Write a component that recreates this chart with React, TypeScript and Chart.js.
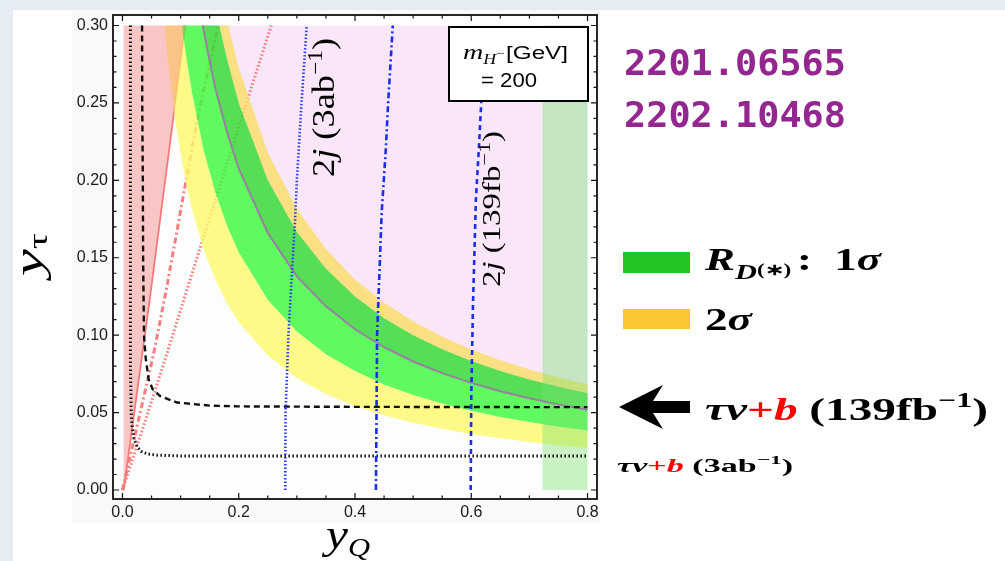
import { useEffect, useRef } from "react";
import { Chart, registerables } from "chart.js";
Chart.register(...registerables);

// ---------- axes ----------
const xMajorTicks = [0, 0.2, 0.4, 0.6, 0.8];
const xTickLabels = ["0.0", "0.2", "0.4", "0.6", "0.8"];
const xMinorTicks = [0.05, 0.1, 0.15, 0.25, 0.3, 0.35, 0.45, 0.5, 0.55, 0.65, 0.7, 0.75];
const yMajorTicks = [0, 0.05, 0.1, 0.15, 0.2, 0.25, 0.3];
const yTickLabels = ["0.00", "0.05", "0.10", "0.15", "0.20", "0.25", "0.30"];
const yMinorTicks = [0.01, 0.02, 0.03, 0.04, 0.06, 0.07, 0.08, 0.09, 0.11, 0.12, 0.13, 0.14, 0.16, 0.17, 0.18, 0.19, 0.21, 0.22, 0.23, 0.24, 0.26, 0.27, 0.28, 0.29];
const regionTop = 0.3;
const regionRight = 0.8;

// ---------- R_D(*) bands ----------
const centralX = [0.138, 0.15, 0.16, 0.18, 0.2, 0.25, 0.3, 0.35, 0.4, 0.45, 0.5, 0.55, 0.6, 0.65, 0.7, 0.75, 0.8];
const centralY = [0.3, 0.277, 0.259, 0.231, 0.2075, 0.166, 0.138, 0.1186, 0.1038, 0.0922, 0.083, 0.0755, 0.0692, 0.0638, 0.0593, 0.0553, 0.0519];
const up1X = [0.1667, 0.18, 0.2, 0.25, 0.3, 0.35, 0.4, 0.45, 0.5, 0.55, 0.6, 0.65, 0.7, 0.75, 0.8];
const up1Y = [0.3, 0.278, 0.25, 0.2, 0.1667, 0.1429, 0.125, 0.111, 0.1, 0.0909, 0.0833, 0.0769, 0.0714, 0.0667, 0.0625];
const up2X = [0.182, 0.2, 0.25, 0.3, 0.35, 0.4, 0.45, 0.5, 0.55, 0.6, 0.65, 0.7, 0.75, 0.8];
const up2Y = [0.3, 0.2725, 0.218, 0.1817, 0.1557, 0.136, 0.121, 0.109, 0.099, 0.0908, 0.0838, 0.0779, 0.0727, 0.0681];
const lo1X = [0.1023, 0.11, 0.12, 0.14, 0.16, 0.18, 0.2, 0.25, 0.3, 0.35, 0.4, 0.45, 0.5, 0.55, 0.6, 0.65, 0.7, 0.75, 0.8];
const lo1Y = [0.3, 0.279, 0.256, 0.219, 0.192, 0.1706, 0.1535, 0.1228, 0.1023, 0.0877, 0.0768, 0.0682, 0.0614, 0.0558, 0.0512, 0.0472, 0.0439, 0.0409, 0.0384];
const lo2X = [0.0723, 0.08, 0.09, 0.1, 0.11, 0.12, 0.14, 0.16, 0.18, 0.2, 0.25, 0.3, 0.35, 0.4, 0.45, 0.5, 0.55, 0.6, 0.65, 0.7, 0.75, 0.8];
const lo2Y = [0.3, 0.271, 0.241, 0.217, 0.197, 0.181, 0.155, 0.136, 0.1206, 0.1085, 0.0868, 0.0723, 0.062, 0.0543, 0.0482, 0.0434, 0.0395, 0.0362, 0.0334, 0.031, 0.0289, 0.0271];

// ---------- other constraints ----------
const redSolidX = [0.002, 0.047, 0.108];
const redSolidY = [0, 0.1234, 0.3];
const redDashX = [0.0, 0.054, 0.0767, 0.108, 0.129, 0.165];
const redDashY = [0, 0.0887, 0.132, 0.197, 0.24, 0.3];
const redDotX = [0.0, 0.03, 0.077, 0.135, 0.168, 0.256];
const redDotY = [0, 0.034, 0.0887, 0.158, 0.197, 0.3];
const greenBandX = [0.7225, 0.8];
const greenBandY = [0, 0.3];
const tauNu139X = [0.0337, 0.034, 0.035, 0.0355, 0.037, 0.04, 0.045, 0.052, 0.065, 0.094, 0.15, 0.2, 0.4, 0.8];
const tauNu139Y = [0.3, 0.25, 0.2, 0.15, 0.1, 0.085, 0.0714, 0.065, 0.0606, 0.0565, 0.0545, 0.054, 0.0537, 0.0535];
const tauNu3abX = [0.0137, 0.0137, 0.015, 0.0166, 0.02, 0.025, 0.032, 0.042, 0.06, 0.1, 0.8];
const tauNu3abY = [0.3, 0.08, 0.05, 0.041, 0.033, 0.028, 0.025, 0.0234, 0.0225, 0.022, 0.022];
const dijet3abX = [0.28, 0.2805, 0.2855, 0.29, 0.297, 0.3, 0.308, 0.317];
const dijet3abY = [0, 0.05, 0.1, 0.13, 0.175, 0.2, 0.25, 0.3];
const dijetMidX = [0.436, 0.437, 0.438, 0.441, 0.446, 0.453, 0.457, 0.465];
const dijetMidY = [0, 0.05, 0.1, 0.13, 0.18, 0.22, 0.25, 0.3];
const dijet139X = [0.599, 0.6, 0.603, 0.608, 0.613, 0.617, 0.624];
const dijet139Y = [0, 0.06, 0.12, 0.188, 0.22, 0.249, 0.3];

type P = { x: number; y: number };
const pts = (xs: number[], ys: number[]): P[] => xs.map((x, i) => ({ x, y: ys[i] }));
const rev = (a: P[]) => [...a].reverse();

type Seg = { t: string; font: string; color?: string; dy?: number; dx?: number };
function drawRich(ctx: CanvasRenderingContext2D, segs: Seg[], x: number, y: number, rotate = 0, fit?: number) {
  ctx.save();
  ctx.textBaseline = "alphabetic";
  ctx.textAlign = "left";
  let total = 0;
  const widths = segs.map((s) => {
    ctx.font = s.font;
    const w = ctx.measureText(s.t).width + (s.dx || 0);
    total += w;
    return w;
  });
  ctx.translate(x, y);
  if (rotate) ctx.rotate(rotate);
  if (fit) ctx.scale(fit / total, 1);
  let cx = 0;
  segs.forEach((s, i) => {
    ctx.font = s.font;
    ctx.fillStyle = s.color || "#000";
    ctx.fillText(s.t, cx + (s.dx || 0), s.dy || 0);
    cx += widths[i];
  });
  ctx.restore();
}

const SERIF = "'Liberation Serif'";

const decorPlugin = {
  id: "decor",
  beforeDraw(chart: any) {
    const ctx = chart.ctx as CanvasRenderingContext2D;
    ctx.save();
    ctx.fillStyle = "#e6ecf4";
    ctx.fillRect(0, 0, 1005, 561);
    ctx.fillStyle = "#ffffff";
    ctx.fillRect(13, 10, 992, 551);
    ctx.fillStyle = "#f9f9f9";
    ctx.fillRect(72, 10, 528, 513);
    const a = chart.chartArea;
    ctx.fillStyle = "#fdfdfd";
    ctx.fillRect(a.left, a.top, a.right - a.left, a.bottom - a.top);
    ctx.restore();
  },
  afterDraw(chart: any) {
    const ctx = chart.ctx as CanvasRenderingContext2D;
    const a = chart.chartArea;
    const xs = chart.scales.x;
    const ys = chart.scales.y;
    ctx.save();
    // ticks (inward)
    ctx.strokeStyle = "#111";
    ctx.lineWidth = 1.2;
    const tickX = (v: number, len: number) => {
      const px = xs.getPixelForValue(v);
      ctx.beginPath();
      ctx.moveTo(px, a.bottom); ctx.lineTo(px, a.bottom - len);
      ctx.moveTo(px, a.top); ctx.lineTo(px, a.top + len);
      ctx.stroke();
    };
    const tickY = (v: number, len: number) => {
      const py = ys.getPixelForValue(v);
      ctx.beginPath();
      ctx.moveTo(a.left, py); ctx.lineTo(a.left + len, py);
      ctx.moveTo(a.right, py); ctx.lineTo(a.right - len, py);
      ctx.stroke();
    };
    xMajorTicks.forEach((v) => tickX(v, 6));
    xMinorTicks.forEach((v) => tickX(v, 3.5));
    yMajorTicks.forEach((v) => tickY(v, 6));
    yMinorTicks.forEach((v) => tickY(v, 3.5));
    // frame
    ctx.lineWidth = 1.8;
    ctx.strokeRect(a.left, a.top, a.right - a.left, a.bottom - a.top);

    // annotation box
    ctx.fillStyle = "#fff";
    ctx.fillRect(449, 27, 139, 74);
    ctx.lineWidth = 2;
    ctx.strokeStyle = "#000";
    ctx.strokeRect(449, 27, 139, 74);
    drawRich(ctx, [
      { t: "m", font: `italic 22px ${SERIF}` },
      { t: "H", font: `italic 14px ${SERIF}`, dy: 5 },
      { t: "−", font: `12px ${SERIF}`, dy: -2 },
      { t: "[GeV]", font: "19px 'Liberation Sans'", dx: 1 },
    ], 463, 59, 0, 105);
    drawRich(ctx, [{ t: "= 200", font: "20px 'Liberation Sans'" }], 481, 87, 0, 56);

    // rotated dijet labels
    drawRich(ctx, [
      { t: "2", font: `31px ${SERIF}` },
      { t: "j", font: `italic 31px ${SERIF}` },
      { t: " (3ab", font: `31px ${SERIF}` },
      { t: "−1", font: `20px ${SERIF}`, dy: -12 },
      { t: ")", font: `31px ${SERIF}` },
    ], 334, 177, -Math.PI / 2, 139);
    drawRich(ctx, [
      { t: "2", font: `25px ${SERIF}` },
      { t: "j", font: `italic 25px ${SERIF}` },
      { t: " (139fb", font: `25px ${SERIF}` },
      { t: "−1", font: `17px ${SERIF}`, dy: -10 },
      { t: ")", font: `25px ${SERIF}` },
    ], 500, 287, -Math.PI / 2, 156);

    // axis titles
    drawRich(ctx, [
      { t: "y", font: `italic 42px ${SERIF}` },
      { t: "Q", font: `italic 26px ${SERIF}`, dy: 8 },
    ], 326, 548, 0, 44);
    drawRich(ctx, [
      { t: "y", font: `italic 42px ${SERIF}` },
      { t: "τ", font: `28px ${SERIF}`, dy: 5 },
    ], 42, 276, -Math.PI / 2, 43);

    // arXiv numbers
    const mono = "bold 36px 'DejaVu Sans Mono'";
    drawRich(ctx, [{ t: "2201.06565", font: mono, color: "#93278f" }], 624, 75, 0, 222);
    drawRich(ctx, [{ t: "2202.10468", font: mono, color: "#93278f" }], 624, 127, 0, 222);

    // legend
    ctx.fillStyle = "#22c622";
    ctx.fillRect(623, 252, 67, 21);
    ctx.fillStyle = "#fcc632";
    ctx.fillRect(623, 309, 67, 20);
    drawRich(ctx, [
      { t: "R", font: `bold italic 31px ${SERIF}` },
      { t: "D", font: `bold italic 21px ${SERIF}`, dy: 9 },
      { t: "(∗)", font: `bold 16px ${SERIF}`, dy: 5 },
      { t: ":", font: `bold 31px ${SERIF}`, dx: 4 },
      { t: "  1", font: `bold 31px ${SERIF}` },
      { t: "σ", font: `bold italic 31px ${SERIF}` },
    ], 705, 270, 0, 176);
    drawRich(ctx, [
      { t: "2", font: `bold 31px ${SERIF}` },
      { t: "σ", font: `bold italic 31px ${SERIF}` },
    ], 705, 330, 0, 47);

    // arrow
    ctx.fillStyle = "#000";
    ctx.beginPath();
    ctx.moveTo(619, 407);
    ctx.lineTo(663, 385);
    ctx.lineTo(653, 401);
    ctx.lineTo(690, 401);
    ctx.lineTo(690, 413);
    ctx.lineTo(653, 413);
    ctx.lineTo(663, 429);
    ctx.closePath();
    ctx.fill();

    drawRich(ctx, [
      { t: "τν", font: `bold italic 31px ${SERIF}` },
      { t: "+", font: `bold 31px ${SERIF}`, color: "#ff0000" },
      { t: "b", font: `bold italic 31px ${SERIF}`, color: "#ff0000" },
      { t: " (139fb", font: `bold 31px ${SERIF}` },
      { t: "−1", font: `bold 21px ${SERIF}`, dy: -13 },
      { t: ")", font: `bold 31px ${SERIF}` },
    ], 705, 420, 0, 283);
    drawRich(ctx, [
      { t: "τν", font: `bold italic 19px ${SERIF}` },
      { t: "+", font: `bold 19px ${SERIF}`, color: "#ff0000" },
      { t: "b", font: `bold italic 19px ${SERIF}`, color: "#ff0000" },
      { t: " (3ab", font: `bold 19px ${SERIF}` },
      { t: "−1", font: `bold 13px ${SERIF}`, dy: -8 },
      { t: ")", font: `bold 19px ${SERIF}` },
    ], 617, 472, 0, 176);
    ctx.restore();
  },
};

export default function App() {
  const ref = useRef<HTMLCanvasElement>(null);
  useEffect(() => {
    const canvas = ref.current!;
    const central = pts(centralX, centralY);
    const up1 = pts(up1X, up1Y);
    const up2 = pts(up2X, up2Y);
    const lo1 = pts(lo1X, lo1Y);
    const lo2 = pts(lo2X, lo2Y);
    const redSolid = pts(redSolidX, redSolidY);

    const poly = (data: P[], color: string) => ({
      data, fill: "shape", backgroundColor: color, borderColor: "rgba(0,0,0,0)", borderWidth: 0, pointRadius: 0,
    });
    const line = (data: P[], color: string, width: number, dash: number[] = []) => ({
      data, fill: false, borderColor: color, borderWidth: width, borderDash: dash, pointRadius: 0, borderCapStyle: "butt",
    });

    const list: any[] = [
      poly([...central, { x: regionRight, y: regionTop }], "#f9e6f8"),
      line(pts(redDashX, redDashY), "rgba(248,120,120,0.95)", 3, [6, 3, 2, 3]),
      line(pts(redDotX, redDotY), "rgba(248,120,120,0.95)", 3, [1.6, 2.2]),
      line(redSolid, "#f77777", 1.8),
      poly([...lo1, ...rev(lo2)], "rgba(252,249,105,0.8)"),
      poly([...up2, ...rev(up1)], "rgba(250,222,100,0.8)"),
      poly([...central, ...rev(lo1)], "rgba(56,249,56,0.8)"),
      poly([...up1, ...rev(central)], "rgba(45,220,45,0.8)"),
      poly([...redSolid, { x: redSolidX[0], y: regionTop }], "rgba(245,130,130,0.45)"),
      poly([
        { x: greenBandX[0], y: greenBandY[0] }, { x: greenBandX[1], y: greenBandY[0] },
        { x: greenBandX[1], y: greenBandY[1] }, { x: greenBandX[0], y: greenBandY[1] },
      ], "rgba(120,225,110,0.4)"),
      line(central, "#9a7fa0", 2),
      line(pts(tauNu3abX, tauNu3abY), "#111111", 3, [1.5, 2.5]),
      line(pts(tauNu139X, tauNu139Y), "#111111", 2.4, [6, 4]),
      line(pts(dijet3abX, dijet3abY), "#2a3cf0", 2.6, [1.5, 2]),
      line(pts(dijetMidX, dijetMidY), "#1a2ee8", 2.6, [6, 3, 2, 3]),
      line(pts(dijet139X, dijet139Y), "#1a2ee8", 2.6, [5, 4]),
    ];
    const datasets = list.map((d, i) => ({ ...d, order: -i, tension: 0 }));

    const tickFont = { family: "'Liberation Sans'", size: 16 };
    const chart = new Chart(canvas, {
      type: "line",
      data: { datasets },
      options: {
        responsive: false,
        animation: false,
        devicePixelRatio: 1,
        layout: { padding: { left: 0, top: 15, right: 408, bottom: 0 } },
        plugins: { legend: { display: false }, tooltip: { enabled: false } },
        scales: {
          x: {
            type: "linear",
            min: -0.0163,
            max: 0.8163,
            grid: { display: false, drawTicks: false },
            border: { display: false },
            ticks: { font: tickFont, color: "#1a1a1a", padding: 4, maxRotation: 0, callback: (_v: any, i: number) => xTickLabels[i] },
            afterBuildTicks: (s: any) => { s.ticks = xMajorTicks.map((v) => ({ value: v })); },
            afterFit: (s: any) => { s.height = 62; },
          },
          y: {
            type: "linear",
            min: -0.00581,
            max: 0.30678,
            grid: { display: false, drawTicks: false },
            border: { display: false },
            ticks: { font: tickFont, color: "#1a1a1a", padding: 5, callback: (_v: any, i: number) => yTickLabels[i] },
            afterBuildTicks: (s: any) => { s.ticks = yMajorTicks.map((v) => ({ value: v })); },
            afterFit: (s: any) => { s.width = 113; },
          },
        },
      } as any,
      plugins: [decorPlugin],
    });
    return () => chart.destroy();
  }, []);
  return (
    <canvas
      ref={ref}
      width={1005}
      height={561}
      style={{ position: "fixed", left: 0, top: 0, width: "1005px", height: "561px" }}
    />
  );
}
